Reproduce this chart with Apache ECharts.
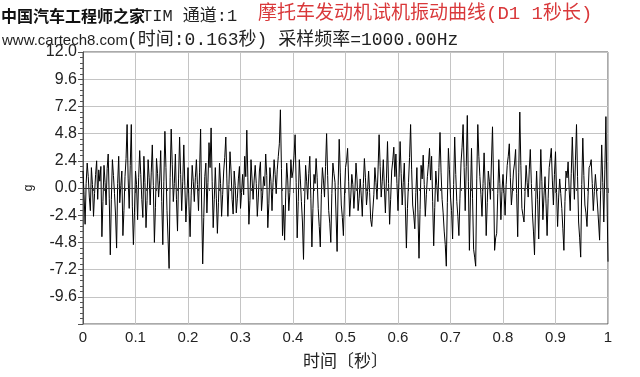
<!DOCTYPE html>
<html>
<head>
<meta charset="utf-8">
<script src="https://cdn.jsdelivr.net/npm/echarts@6/dist/echarts.min.js"></script>
<style>
  html, body { margin: 0; padding: 0; background: #fff; }
  #chart { width: 640px; height: 377px; }
</style>
</head>
<body>
<div id="chart"></div>
<script>
// 采样间隔（秒），按图读出的点
const sampleStep = 0.002;

// 0 ~ 0.2 秒
const seg1 = [1.5, -0.6, -3.2, 0.4, 2.2, 1.0, -0.8, -2.0, 1.8, 0.3, -2.5, -0.5, 1.2, 2.4, -1.0, 1.6, 0.6, 1.9, -4.3, -1.2,
  2.0, 0.5, -1.5, 1.7, 3.0, -0.9, -5.9, -1.0, 2.5, 1.1, -0.5, -2.4, -5.3, 0.4, 2.8, -1.3, 0.2, 1.5, -4.2, -2.0,
  1.0, 2.6, 5.6, 0.8, -1.8, 2.0, 5.6, -1.6, -5.0, -2.2, 1.5, 0.3, -2.8, 0.9, 3.3, 1.2, -1.0, -2.6, 2.8, 0.5,
  -3.5, -1.1, 2.5, 0.9, -1.5, 1.4, 3.8, 0.2, -4.8, -1.7, 2.6, 1.3, -0.8, 0.7, 3.3, -1.2, -5.0, 0.6, 5.0, 1.8,
  -2.0, -4.5, -7.1, 0.9, 5.2, 2.1, -1.2, 0.4, 3.0, -1.0, -3.8, 0.8, 4.5, 1.2, -2.0, 0.6, 3.8, 0.2, -3.0, -0.8];
// 0.2 ~ 0.4 秒
const seg2 = [1.8, -1.6, -4.3, -0.7, 2.0, 0.6, -1.2, 0.9, 2.5, 0.3, -2.0, 1.4, 5.2, -1.5, -6.7, -2.6, 1.0, 2.2, -2.2, 0.5,
  4.0, 1.8, 5.3, 0.6, -3.5, -1.0, 1.8, -0.9, -4.0, -1.3, 2.2, 0.4, -2.5, -0.6, 1.5, 2.7, 4.5, 0.8, -2.5, 0.3,
  3.2, 1.5, -1.0, -2.3, 1.5, 0.2, -2.2, -0.9, 0.8, 1.9, -1.8, -0.4, 1.2, -0.6, 2.8, 1.0, 5.1, 0.9, -3.2, -1.1,
  2.5, 0.8, -1.0, 0.7, 2.0, 0.4, -2.5, -0.8, 1.5, 2.3, -2.0, -0.7, 1.0, 0.2, 3.0, 1.1, -3.5, -1.4, 1.8, 0.6,
  -2.0, 0.5, 2.5, 1.2, -0.5, 1.6, 2.8, 3.9, 6.9, 1.7, -4.2, -1.5, -4.6, -0.8, 2.2, 0.7, -2.0, -0.4, 2.5, 0.9];
// 0.4 ~ 0.6 秒
const seg3 = [1.5, 2.9, 4.7, 0.5, -4.4, -1.2, 2.5, 0.8, -1.2, -3.0, -6.3, -1.4, 2.0, 0.6, -1.0, 1.3, 2.8, -0.9, -5.2, -1.8,
  1.2, 0.4, 2.6, 0.9, -1.8, -3.4, -5.2, -0.6, 1.8, 0.7, -0.8, 1.9, 4.8, 1.1, -2.0, -3.1, -4.8, -0.5, 2.2, 1.3,
  0.5, -2.4, -5.6, 0.2, 4.3, 1.4, -1.5, -2.6, -4.2, -0.7, 1.8, 2.4, 3.5, 0.6, -2.5, -0.8, 1.2, 0.3, -1.8, -0.2,
  2.2, 0.7, -2.0, -0.9, 0.8, -0.7, -2.5, 0.4, 2.6, 0.9, -1.5, -0.3, 1.5, -0.4, -2.8, -3.4, -3.5, -0.6, 1.8, 0.5,
  -1.0, 1.6, 4.7, 1.9, -0.8, 0.6, 2.5, 0.1, -2.2, 0.8, 4.1, 0.4, -3.2, -1.0, 1.5, 2.4, 3.6, 1.0, 3.0, 0.4];
// 0.6 ~ 0.8 秒
const seg4 = [-2.0, 0.9, 4.1, 1.3, -1.5, 0.5, 2.2, -1.6, -5.3, -1.8, 0.5, 2.7, 5.6, 1.6, -1.5, -2.4, -3.6, -0.4, 1.8, -2.2,
  -6.2, -1.9, 2.0, 0.8, 2.9, 0.3, -2.5, -0.6, 1.0, 2.1, 3.5, 0.7, 2.8, -1.2, -5.1, -1.7, 1.5, 0.2, -1.2, 1.8,
  4.9, 1.4, -1.0, -2.2, -3.8, -5.0, -6.9, -1.3, 3.5, 1.6, -0.8, -2.0, -4.5, 0.3, 4.5, 1.2, -1.2, -2.5, -4.2, -0.9,
  2.2, 3.6, 5.6, 1.8, -2.0, 1.9, 6.4, 0.6, -5.5, -0.8, 3.5, -0.9, -5.4, -6.1, -6.9, 0.8, 5.6, 2.8, 1.0, -0.6,
  -2.5, 0.4, 3.1, 0.2, -4.2, -1.3, 1.5, 0.6, -1.0, 2.3, 5.4, 0.7, -5.5, -4.4, -4.0, -0.5, 2.5, 0.4, -2.8, -0.3];
// 0.8 ~ 1.0 秒
const seg5 = [1.2, -0.4, -2.4, 0.3, 2.0, 2.8, 3.9, 0.9, -1.5, -0.2, 1.5, 2.2, 3.4, -0.5, -4.3, 1.4, 6.7, 2.0, -1.8, -2.4,
  -3.0, -0.3, 2.0, 0.5, -0.8, 1.6, 3.4, 0.4, -2.2, -3.8, -5.9, -1.5, 1.5, -1.0, -4.5, -0.2, 3.4, 0.6, -2.8, -0.7,
  1.0, -1.4, -4.2, -0.9, 1.8, 2.6, 3.5, 0.7, -1.5, 1.2, 3.2, -0.4, -3.4, -0.8, 0.8, -0.5, -1.8, -3.6, -5.5, -1.2,
  1.5, 0.9, 2.3, -0.1, -2.0, 1.3, 4.5, 1.5, -1.0, 2.4, 5.6, 1.0, -3.0, -4.4, -6.1, 0.3, 4.4, 1.1, -1.5, -2.2,
  -3.4, -0.7, 1.8, 2.0, 2.5, 0.4, -2.0, -0.3, 1.2, -0.1, -1.5, -3.0, -4.6, -0.2, 3.8, 0.5, -3.0, 1.6, 6.3, -0.5, -6.5];

const xTicks = [0, 0.1, 0.2, 0.3, 0.4, 0.5, 0.6, 0.7, 0.8, 0.9, 1];
const yTicks = [-12, -9.6, -7.2, -4.8, -2.4, 0, 2.4, 4.8, 7.2, 9.6, 12];

const values = seg1.concat(seg2, seg3, seg4, seg5);
const seriesData = values.map((v, i) => [+(i * sampleStep).toFixed(3), v]);

const myChart = echarts.init(document.getElementById('chart'));
const option = {
  animation: false,
  backgroundColor: '#fff',
  grid: {
    left: 83,
    right: 32,
    top: 52,
    bottom: 53,
    show: true,
    borderColor: '#555',
    borderWidth: 1
  },
  graphic: [
    {
      type: 'text', left: 258, top: 4,
      style: { text: '摩托车发动机试机振动曲线(D1 1秒长)', fill: '#d9383a', font: '19px "Liberation Mono", "Noto Sans CJK SC"' }
    },
    {
      type: 'text', left: 1, top: 8,
      style: { text: '中国汽车工程师之家', fill: '#111', font: 'bold 16px "Noto Sans CJK SC"' }
    },
    {
      type: 'text', left: 142, top: 8,
      style: { text: 'TIM 通道:1', fill: '#222', font: '17px "Liberation Mono", "Noto Sans CJK SC"' }
    },
    {
      type: 'text', left: 2, top: 33,
      style: { text: 'www.cartech8.com', fill: '#222', font: '15px "Liberation Sans"' }
    },
    {
      type: 'text', left: 127, top: 31,
      style: { text: '(时间:0.163秒) 采样频率=1000.00Hz', fill: '#222', font: '18px "Liberation Mono", "Noto Sans CJK SC"' }
    }
  ],
  xAxis: {
    type: 'value',
    min: xTicks[0],
    max: xTicks[xTicks.length - 1],
    interval: 0.1,
    name: '时间〔秒〕',
    nameLocation: 'middle',
    nameGap: 28,
    nameTextStyle: { color: '#222', fontSize: 17, fontFamily: 'Noto Sans CJK SC' },
    axisLine: { show: true, lineStyle: { color: '#555', width: 1 } },
    axisTick: { show: true, length: 5, lineStyle: { color: '#555' } },
    minorTick: { show: true, splitNumber: 5, length: 3, lineStyle: { color: '#555' } },
    axisLabel: {
      color: '#222', fontSize: 15, fontFamily: 'Liberation Sans', margin: 6,
      formatter: v => (v === 0 || v === 1) ? String(v) : v.toFixed(1)
    },
    splitLine: { show: true, lineStyle: { color: '#c4c4c4', width: 1 } }
  },
  yAxis: {
    type: 'value',
    min: yTicks[0],
    max: yTicks[yTicks.length - 1],
    interval: 2.4,
    name: 'g',
    nameLocation: 'middle',
    nameGap: 46,
    nameRotate: 90,
    nameTextStyle: { color: '#222', fontSize: 12, fontFamily: 'Liberation Sans' },
    axisLine: { show: true, lineStyle: { color: '#555', width: 1 } },
    axisTick: { show: true, length: 5, lineStyle: { color: '#555' } },
    minorTick: { show: true, splitNumber: 5, length: 3, lineStyle: { color: '#555' } },
    axisLabel: {
      color: '#222', fontSize: 16, fontFamily: 'Liberation Sans', margin: 6,
      formatter: v => v === yTicks[0] ? '' : v.toFixed(1)
    },
    splitLine: { show: true, lineStyle: { color: '#c4c4c4', width: 1 } }
  },
  series: [
    {
      type: 'line',
      data: seriesData,
      showSymbol: false,
      silent: true,
      lineStyle: { color: '#000', width: 1 },
      markLine: {
        silent: true,
        symbol: 'none',
        label: { show: false },
        lineStyle: { color: '#333', width: 1, type: 'solid' },
        data: [{ yAxis: 0 }]
      }
    }
  ]
};
myChart.setOption(option);
</script>
</body>
</html>
